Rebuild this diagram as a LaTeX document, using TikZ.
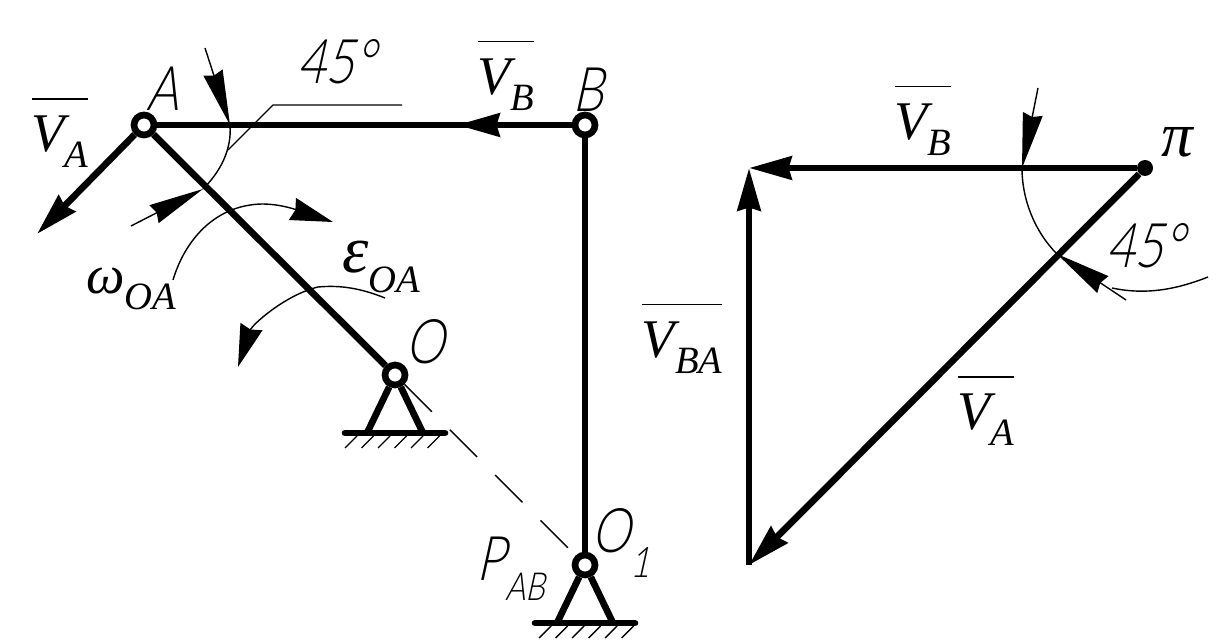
\documentclass[tikz,border=0pt]{standalone}
\usepackage{fontspec}
\setmainfont{Liberation Serif}
\newfontfamily\sketchfont[FakeStretch=0.8,FakeSlant=0.22]{Lato Light}
\newfontfamily\vecfont{Liberation Serif Italic}
\usepackage{amsmath}
\usetikzlibrary{arrows.meta, positioning, calc}

\newcommand{\barvec}[2]{$\overline{\rule{0pt}{0.86em}\mbox{\vecfont #1\raisebox{-0.3em}{\fontsize{22}{22}\selectfont #2}}}$}
\newcommand{\greeksub}[2]{\vecfont #1\raisebox{-0.3em}{\fontsize{22}{22}\selectfont #2}}

\tikzset{
  joint/.style={circle, draw, line width=3.8pt, fill=white, inner sep=0pt, minimum size=0.4cm},
  dotjoint/.style={circle, fill, inner sep=0pt, minimum size=0.32cm},
  link/.style={line width=3.8pt},
  ground/.style={line width=3.8pt, line cap=round},
  thinline/.style={line width=0.8pt},
  bigtip/.style={-{Stealth[length=0.85cm, width=0.46cm, inset=0.06cm]}},
  longtip/.style={-{Stealth[length=1.1cm, width=0.4cm, inset=0.06cm]}},
  vectorlabel/.style={inner sep=0pt, font=\fontsize{31}{31}\selectfont},
  sketchlabel/.style={inner sep=0pt, font=\fontsize{35}{35}\selectfont\sketchfont},
}

\begin{document}
\begin{tikzpicture}[x=0.02cm, y=-0.02cm]
\useasboundingbox (0,0) rectangle (1230,644);

% mechanism
\node[joint] (A) at (144,125) {};
\node[joint] (B) at (585,125) {};
\node[joint] (O) at (395,375) {};
\node[joint] (O1) at (585,565) {};
\coordinate (VAtip) at (37,234);
\coordinate (VBtip) at (457,125);

\draw[link] (A) -- (B);
\draw[link] (A) -- (O);
\draw[link] (B) -- (O1);
\draw[link, bigtip] (A) -- (VAtip);
\draw[link, bigtip] (B) -- (VBtip);
\draw[thinline, dash pattern=on 22pt off 14.5pt] (O) -- (O1);

% supports
\coordinate (Oleft) at (367,433);
\coordinate (Oright) at (423,433);
\coordinate (Ogl) at (345,433);
\coordinate (Ogr) at (445,433);
\coordinate (Oneleft) at (557,623);
\coordinate (Oneright) at (613,623);
\coordinate (Onegl) at (535,623);
\coordinate (Onegr) at (635,623);
\draw[link] (O) -- (Oleft);
\draw[link] (O) -- (Oright);
\draw[link] (O1) -- (Oneleft);
\draw[link] (O1) -- (Oneright);
\draw[ground] (Ogl) -- (Ogr);
\draw[ground] (Onegl) -- (Onegr);
\foreach \i in {0,...,5} {
  \draw[thinline] ($(Ogl)+(\i*16.5,15)$) -- ++(12,-12);
  \draw[thinline] ($(Onegl)+(\i*16.5+4,15)$) -- ++(12,-12);
}

% angle at A
\coordinate (ArcAtop) at (230,125);
\coordinate (ArcAbot) at (203,189);
\coordinate (ArcAstart) at (205,48);
\coordinate (ArcAend) at (131,226);
\coordinate (Lead) at (228,150);
\coordinate (Leadknee) at (273,105);
\coordinate (Leadend) at (402,105);
\draw[thinline] (ArcAtop) .. controls (232,150) and (220,172) .. (ArcAbot);
\draw[thinline, longtip] (ArcAstart) -- (ArcAtop);
\draw[thinline, longtip] (ArcAend) -- (ArcAbot);
\draw[thinline] (Lead) -- (Leadknee) -- (Leadend);

% omega and epsilon
\coordinate (OmStart) at (173,280);
\coordinate (OmTip) at (333,222);
\coordinate (EpStart) at (385,298);
\coordinate (EpTip) at (238,367);
\draw[thinline, bigtip] (OmStart) .. controls (185,240) and (215,205) .. (262,204) .. controls (285,204) and (305,213) .. (OmTip);
\draw[thinline, bigtip] (EpStart) .. controls (360,288) and (340,285) .. (318,287) .. controls (285,295) and (252,325) .. (EpTip);

% labels, left
\node[sketchlabel] (Alabel) at (163,89) {A};
\node[sketchlabel] (Blabel) at (588,90) {B};
\node[sketchlabel] (Olabel) at (425,342) {O};
\node[sketchlabel] (O1label) at (621,543) {O\raisebox{-0.4em}{\fontsize{24}{24}\selectfont 1}};
\node[sketchlabel] (Plabel) at (511,569) {P\raisebox{-0.33em}{\fontsize{22}{22}\selectfont AB}};
\node[sketchlabel] (AngleA) at (336,62) {45°};
\node[vectorlabel] (VAleft) at (60,132) {\barvec{V}{A}};
\node[vectorlabel] (VBleft) at (506,75) {\barvec{V}{B}};
\node[vectorlabel] (omega) at (131,289) {\greeksub{ω}{OA}};
\node[vectorlabel] (eps) at (381,267) {\greeksub{\fontsize{38}{38}\selectfont ε}{OA}};

% velocity plan
\node[dotjoint] (pi) at (1145,168) {};
\coordinate (corner) at (749,168);
\coordinate (bottom) at (749,565);
\draw[link, bigtip] (pi) -- (corner);
\draw[link, bigtip] (bottom) -- (corner);
\draw[link, bigtip] (pi) -- (bottom);

% angle at pi
\coordinate (ArcPtop) at (1022,168);
\coordinate (ArcPbot) at (1057,254);
\coordinate (ArcPstart) at (1038,88);
\coordinate (ArcPend) at (1126,300);
\coordinate (Tail) at (1208,277);
\coordinate (Tailend) at (1112,288);
\draw[thinline] (ArcPtop) .. controls (1022,200) and (1035,232) .. (ArcPbot);
\draw[thinline, longtip] (ArcPstart) -- (ArcPtop);
\draw[thinline, longtip] (ArcPend) -- (ArcPbot);
\draw[thinline] (Tail) .. controls (1175,290) and (1145,295) .. (Tailend);

% labels, right
\node[font=\fontsize{36}{36}\selectfont\vecfont, inner sep=0pt] (pilabel) at (1177,142) {π};
\node[sketchlabel] (AnglePi) at (1145,246) {45°};
\node[vectorlabel] (VBright) at (923,120) {\barvec{V}{B}};
\node[vectorlabel] (VBA) at (682,338) {\barvec{V}{BA}};
\node[vectorlabel] (VAright) at (986,410) {\barvec{V}{A}};
\end{tikzpicture}
\end{document}
